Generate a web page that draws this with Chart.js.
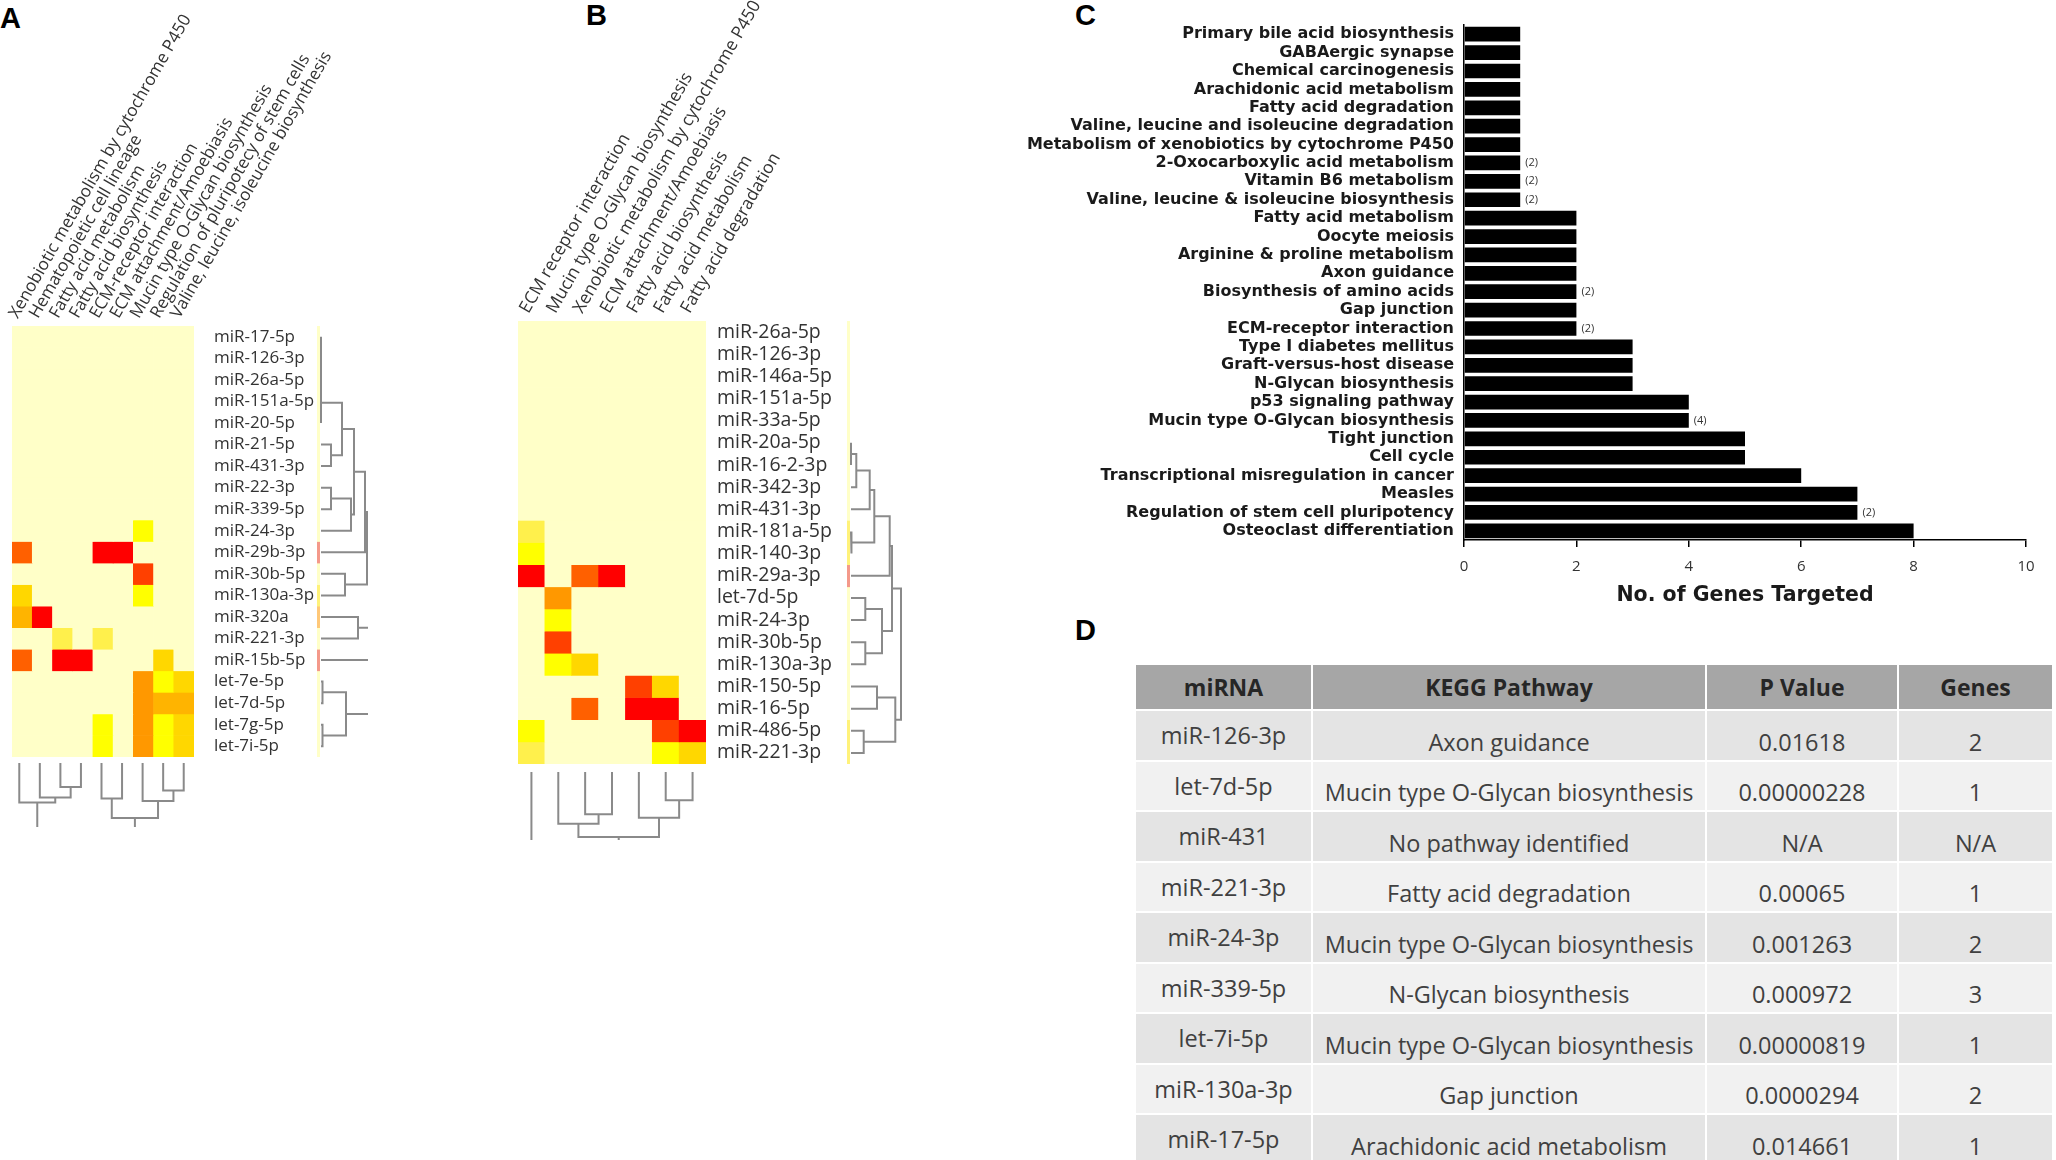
<!DOCTYPE html>
<html>
<head>
<meta charset="utf-8">
<script src="https://cdn.jsdelivr.net/npm/chart.js@4.4.1/dist/chart.umd.min.js"></script>
<style>
  body { margin: 0; width: 2056px; height: 1160px; overflow: hidden; background: #fff; position: relative; font-family: 'Open Sans', sans-serif; }
  .box { position: absolute; }
  .panel { position: absolute; font-family: 'Liberation Sans', Arial, sans-serif; font-weight: bold; font-size: 29px; color: #000; }
  table { position: absolute; left: 1134px; top: 663px; border-collapse: separate; border-spacing: 2px; font-size: 23.5px; color: #404040; }
  th { background: #a6a6a6; color: #262626; height: 42px; font-weight: bold; font-size: 23px; }
  td { text-align: center; padding: 0; }
  td.mi { vertical-align: top; padding-top: 8px; height: 40.5px; }
  td.bot { vertical-align: bottom; padding-bottom: 2px; height: 46.5px; }
  tr.odd td { background: #e4e4e4; }
  tr.even td { background: #f1f1f1; }
</style>
</head>
<body>
<div class="panel" style="left:0;top:2px">A</div>
<div class="panel" style="left:586px;top:-1px">B</div>
<div class="panel" style="left:1075px;top:-1px">C</div>
<div class="panel" style="left:1075px;top:614px">D</div>

<canvas id="heatA" class="box" style="left:0;top:0" width="379" height="757"></canvas>
<canvas id="sideA" class="box" style="left:317px;top:326px" width="3" height="431"></canvas>
<canvas id="rowDendA" class="box" style="left:320px;top:326px" width="48" height="431"></canvas>
<canvas id="colDendA" class="box" style="left:9px;top:757px" width="185" height="70"></canvas>

<canvas id="heatB" class="box" style="left:500px;top:0" width="396" height="764"></canvas>
<canvas id="sideB" class="box" style="left:847px;top:321px" width="3" height="443"></canvas>
<canvas id="rowDendB" class="box" style="left:850px;top:321px" width="52" height="443"></canvas>
<canvas id="colDendB" class="box" style="left:518px;top:764px" width="188" height="76"></canvas>

<canvas id="barC" class="box" style="left:1000px;top:0" width="1056" height="610"></canvas>

<table id="tableD"></table>

<script>
// heatmap A
const colsA = ['Xenobiotic metabolism by cytochrome P450', 'Hematopoietic cell lineage', 'Fatty acid metabolism',
  'Fatty acid biosynthesis', 'ECM-receptor interaction', 'ECM attachment/Amoebiasis',
  'Mucin type O-Glycan biosynthesis', 'Regulation of pluripotecy of stem cells', 'Valine, leucine, isoleucine biosynthesis'];
const rowsA = ['miR-17-5p', 'miR-126-3p', 'miR-26a-5p', 'miR-151a-5p', 'miR-20-5p', 'miR-21-5p', 'miR-431-3p',
  'miR-22-3p', 'miR-339-5p', 'miR-24-3p', 'miR-29b-3p', 'miR-30b-5p', 'miR-130a-3p', 'miR-320a', 'miR-221-3p',
  'miR-15b-5p', 'let-7e-5p', 'let-7d-5p', 'let-7g-5p', 'let-7i-5p'];
// colour level per cell (0 = not enriched ... 8 = strongest)
const cellsA = [
  [0,0,0,0,0,0,0,0,0], [0,0,0,0,0,0,0,0,0], [0,0,0,0,0,0,0,0,0], [0,0,0,0,0,0,0,0,0],
  [0,0,0,0,0,0,0,0,0], [0,0,0,0,0,0,0,0,0], [0,0,0,0,0,0,0,0,0], [0,0,0,0,0,0,0,0,0],
  [0,0,0,0,0,0,0,0,0],
  [0,0,0,0,0,0,2,0,0],
  [6,0,0,0,8,8,0,0,0],
  [0,0,0,0,0,0,7,0,0],
  [3,0,0,0,0,0,2,0,0],
  [4,8,0,0,0,0,0,0,0],
  [0,0,1,0,1,0,0,0,0],
  [6,0,8,8,0,0,0,3,0],
  [0,0,0,0,0,0,5,2,3],
  [0,0,0,0,0,0,5,4,4],
  [0,0,0,0,2,0,5,2,3],
  [0,0,0,0,2,0,5,2,3]
];
// row side colour bar
const sideA = [0,0,0,0,0,0,0,0,0,0,3,0,1,2,0,3,0,0,0,0];
// dendrogram merges: [child, child, height]; children >= leaf count refer to earlier merges
const rowTreeA = [[0,1,0],[20,2,0],[21,3,0],[22,4,0],[5,6,10],[7,8,10],[23,24,21],[25,9,30],[26,27,33],
  [28,10,44],[11,12,24],[29,30,46],[13,14,37],[32,15,55],[16,17,1.5],[18,19,1.5],[34,35,25],[31,33,60],[37,36,70]];
const colTreeA = [[2,3,24],[7,8,27.5],[4,5,35.5],[1,9,34.4],[6,10,37.9],[0,12,39.6],[11,13,55],[14,15,75]];

// heatmap B
const colsB = ['ECM receptor interaction', 'Mucin type O-Glycan biosynthesis', 'Xenobiotic metabolism by cytochrome P450',
  'ECM attachment/Amoebiasis', 'Fatty acid biosynthesis', 'Fatty acid metabolism', 'Fatty acid degradation'];
const rowsB = ['miR-26a-5p', 'miR-126-3p', 'miR-146a-5p', 'miR-151a-5p', 'miR-33a-5p', 'miR-20a-5p', 'miR-16-2-3p',
  'miR-342-3p', 'miR-431-3p', 'miR-181a-5p', 'miR-140-3p', 'miR-29a-3p', 'let-7d-5p', 'miR-24-3p', 'miR-30b-5p',
  'miR-130a-3p', 'miR-150-5p', 'miR-16-5p', 'miR-486-5p', 'miR-221-3p'];
const cellsB = [
  [0,0,0,0,0,0,0], [0,0,0,0,0,0,0], [0,0,0,0,0,0,0], [0,0,0,0,0,0,0], [0,0,0,0,0,0,0],
  [0,0,0,0,0,0,0], [0,0,0,0,0,0,0], [0,0,0,0,0,0,0], [0,0,0,0,0,0,0],
  [1,0,0,0,0,0,0],
  [2,0,0,0,0,0,0],
  [8,0,6,8,0,0,0],
  [0,5,0,0,0,0,0],
  [0,2,0,0,0,0,0],
  [0,7,0,0,0,0,0],
  [0,2,3,0,0,0,0],
  [0,0,0,0,7,3,0],
  [0,0,6,0,8,8,0],
  [2,0,0,0,0,7,8],
  [1,0,0,0,0,2,3]
];
const sideB = [0,0,0,0,0,0,0,0,0,1,1,3,0,0,0,0,0,0,1,1];
const rowTreeB = [[5,6,0],[20,7,5.3],[21,8,18.7],[9,10,0.7],[22,23,23.3],[24,11,38.7],[12,13,14.3],[14,15,14.3],
  [26,27,31],[25,28,41],[16,17,26],[18,19,12.7],[30,31,44.3],[29,32,50]];
const colTreeB = [[5,6,28.3],[4,7,45.7],[2,3,42.3],[1,9,51.7],[10,8,65],[0,11,80]];

// bar chart C
const pathwaysC = ['Primary bile acid biosynthesis', 'GABAergic synapse', 'Chemical carcinogenesis',
  'Arachidonic acid metabolism', 'Fatty acid degradation', 'Valine, leucine and isoleucine degradation',
  'Metabolism of xenobiotics by cytochrome P450', '2-Oxocarboxylic acid metabolism', 'Vitamin B6 metabolism',
  'Valine, leucine & isoleucine biosynthesis', 'Fatty acid metabolism', 'Oocyte meiosis',
  'Arginine & proline metabolism', 'Axon guidance', 'Biosynthesis of amino acids', 'Gap junction',
  'ECM-receptor interaction', 'Type I diabetes mellitus', 'Graft-versus-host disease', 'N-Glycan biosynthesis',
  'p53 signaling pathway', 'Mucin type O-Glycan biosynthesis', 'Tight junction', 'Cell cycle',
  'Transcriptional misregulation in cancer', 'Measles', 'Regulation of stem cell pluripotency',
  'Osteoclast differentiation'];
const genesC = [1,1,1,1,1,1,1,1,1,1,2,2,2,2,2,2,2,3,3,3,4,4,5,5,6,7,7,8];
const notesC = ['','','','','','','','(2)','(2)','(2)','','','','','(2)','','(2)','','','','','(4)','','','','','(2)',''];
const ticksC = [0, 2, 4, 6, 8, 10];

// table D
const tableHead = ['miRNA', 'KEGG Pathway', 'P Value', 'Genes'];
const tableMirna = ['miR-126-3p', 'let-7d-5p', 'miR-431', 'miR-221-3p', 'miR-24-3p', 'miR-339-5p', 'let-7i-5p', 'miR-130a-3p', 'miR-17-5p'];
const tablePathway = ['Axon guidance', 'Mucin type O-Glycan biosynthesis', 'No pathway identified', 'Fatty acid degradation',
  'Mucin type O-Glycan biosynthesis', 'N-Glycan biosynthesis', 'Mucin type O-Glycan biosynthesis', 'Gap junction',
  'Arachidonic acid metabolism'];
const tablePValue = ['0.01618', '0.00000228', 'N/A', '0.00065', '0.001263', '0.000972', '0.00000819', '0.0000294', '0.014661'];
const tableGenes = ['2', '1', 'N/A', '1', '2', '3', '1', '2', '1'];

const heatColors = ['#ffffc8', '#fff04c', '#ffff00', '#ffd700', '#ffb400', '#ff9800', '#ff6000', '#ff4000', '#ff0000'];
const sideColors = ['#ffffc8', '#fff27a', '#ffc878', '#f4998a'];
const textColor = '#333333';

const noLegend = { legend: { display: false }, tooltip: { enabled: false } };

function heatmap(id, rows, cols, cells, o) {
  new Chart(document.getElementById(id), {
    type: 'bar',
    data: {
      labels: cols,
      datasets: rows.map((r, i) => ({
        label: r,
        data: cols.map(() => 1),
        backgroundColor: cells[i].map(v => heatColors[v]),
        borderWidth: 0,
        barPercentage: 1,
        categoryPercentage: 1
      }))
    },
    options: {
      responsive: false,
      animation: false,
      layout: { padding: { left: o.padLeft, right: 60, top: 0, bottom: 0 } },
      plugins: noLegend,
      scales: {
        x: {
          position: 'top',
          stacked: true,
          grid: { display: false, drawTicks: false },
          border: { display: false },
          ticks: { autoSkip: false, minRotation: 60, maxRotation: 60, padding: 4, labelOffset: o.shift, color: textColor,
                   font: { family: 'Open Sans', size: o.colFont } },
          afterFit: s => { s.height = o.top; }
        },
        y: {
          position: 'right',
          stacked: true,
          reverse: true,
          min: 0,
          max: rows.length,
          grid: { display: false, drawTicks: false },
          border: { display: false },
          afterBuildTicks: s => { s.ticks = rows.map((r, i) => ({ value: i + 0.5 })); },
          ticks: { autoSkip: false, padding: o.gap, color: textColor, callback: (v, i) => rows[i],
                   font: { family: 'Open Sans', size: o.rowFont } },
          // keep the label overflow from shrinking the cell area
          afterFit: s => { s.width = o.labelWidth; s.paddingTop = 0; s.paddingBottom = 0; }
        }
      }
    }
  });
}

// one-column colour bar beside the rows
function sideBar(id, levels) {
  new Chart(document.getElementById(id), {
    type: 'bar',
    data: {
      labels: ['side'],
      datasets: levels.map(v => ({ data: [1], backgroundColor: sideColors[v], borderWidth: 0, barPercentage: 1, categoryPercentage: 1 }))
    },
    options: {
      responsive: false,
      animation: false,
      layout: { padding: 0 },
      plugins: noLegend,
      scales: {
        x: { display: false, stacked: true },
        y: { display: false, stacked: true, reverse: true, min: 0, max: levels.length }
      }
    }
  });
}

// draws a dendrogram, one polyline per merge
function dendrogram(id, tree, nLeaves, horizontal, hMin, hMax) {
  const nodes = [];
  for (let i = 0; i < nLeaves; i++) nodes.push({ p: i + 0.5, h: 0 });
  const datasets = tree.map(([a, b, h]) => {
    const A = nodes[a], B = nodes[b];
    nodes.push({ p: (A.p + B.p) / 2, h: h });
    const pts = [[A.p, A.h], [A.p, h], [B.p, h], [B.p, B.h]];
    return {
      data: pts.map(([p, v]) => horizontal ? { x: v, y: p } : { x: p, y: v }),
      showLine: true, borderColor: '#8a8a8a', borderWidth: 2, pointRadius: 0, fill: false
    };
  });
  const posAxis = { type: 'linear', display: false, min: 0, max: nLeaves, reverse: horizontal };
  const hAxis = { type: 'linear', display: false, min: hMin, max: hMax, reverse: !horizontal };
  new Chart(document.getElementById(id), {
    type: 'scatter',
    data: { datasets: datasets },
    options: {
      responsive: false,
      animation: false,
      layout: { padding: 0 },
      plugins: noLegend,
      scales: horizontal ? { x: hAxis, y: posAxis } : { x: posAxis, y: hAxis }
    }
  });
}

heatmap('heatA', rowsA, colsA, cellsA, { padLeft: 9, top: 326, labelWidth: 125, gap: 20, rowFont: 17, colFont: 17, shift: 9 });
sideBar('sideA', sideA);
dendrogram('rowDendA', rowTreeA, rowsA.length, true, -1, 47);
dendrogram('colDendA', colTreeA, colsA.length, false, -6, 64);

heatmap('heatB', rowsB, colsB, cellsB, { padLeft: 18, top: 321, labelWidth: 130, gap: 11, rowFont: 19.5, colFont: 17.5, shift: 11 });
sideBar('sideB', sideB);
dendrogram('rowDendB', rowTreeB, rowsB.length, true, -1, 51);
dendrogram('colDendB', colTreeB, colsB.length, false, -8, 68);

// small "(n)" notes next to the bars
const notePlugin = {
  id: 'notes',
  afterDatasetsDraw(chart) {
    const ctx = chart.ctx;
    ctx.save();
    ctx.font = '11px "Open Sans"';
    ctx.fillStyle = textColor;
    ctx.textBaseline = 'middle';
    chart.getDatasetMeta(0).data.forEach((bar, i) => {
      if (notesC[i]) ctx.fillText(notesC[i], bar.x + 5, bar.y);
    });
    ctx.restore();
  }
};

new Chart(document.getElementById('barC'), {
  type: 'bar',
  data: {
    labels: pathwaysC,
    datasets: [{ data: genesC, backgroundColor: '#000', borderWidth: 0, barPercentage: 0.8, categoryPercentage: 1 }]
  },
  options: {
    indexAxis: 'y',
    responsive: false,
    animation: false,
    layout: { padding: { left: 0, right: 30, top: 25, bottom: 0 } },
    plugins: noLegend,
    scales: {
      x: {
        min: 0,
        max: 10,
        afterBuildTicks: s => { s.ticks = ticksC.map(v => ({ value: v })); },
        grid: { drawOnChartArea: false, drawTicks: true, tickLength: 7, color: '#000', lineWidth: 1.5 },
        border: { display: true, color: '#000', width: 1.5 },
        ticks: { padding: 11, color: textColor, font: { family: 'Open Sans', size: 15 } },
        title: { display: true, text: 'No. of Genes Targeted', color: '#1a1a1a', padding: { top: 0, bottom: 2 },
                 font: { family: 'DejaVu Sans', size: 20.5, weight: 'bold' } },
        afterFit: s => { s.height = 70; }
      },
      y: {
        grid: { display: false, drawTicks: false },
        border: { display: true, color: '#000', width: 1.5 },
        ticks: { autoSkip: false, padding: 10, color: '#1a1a1a', font: { family: 'DejaVu Sans', size: 16, weight: 'bold' } },
        afterFit: s => { s.width = 464; }
      }
    }
  },
  plugins: [notePlugin]
});

// table D
const table = document.getElementById('tableD');
const widths = [173, 390, 188, 151];
let html = '<tr>' + tableHead.map((h, i) => '<th style="width:' + widths[i] + 'px">' + h + '</th>').join('') + '</tr>';
tableMirna.forEach((m, i) => {
  html += '<tr class="' + (i % 2 ? 'even' : 'odd') + '"><td class="mi">' + m + '</td><td class="bot">' + tablePathway[i] +
    '</td><td class="bot">' + tablePValue[i] + '</td><td class="bot">' + tableGenes[i] + '</td></tr>';
});
table.innerHTML = html;
</script>
</body>
</html>
